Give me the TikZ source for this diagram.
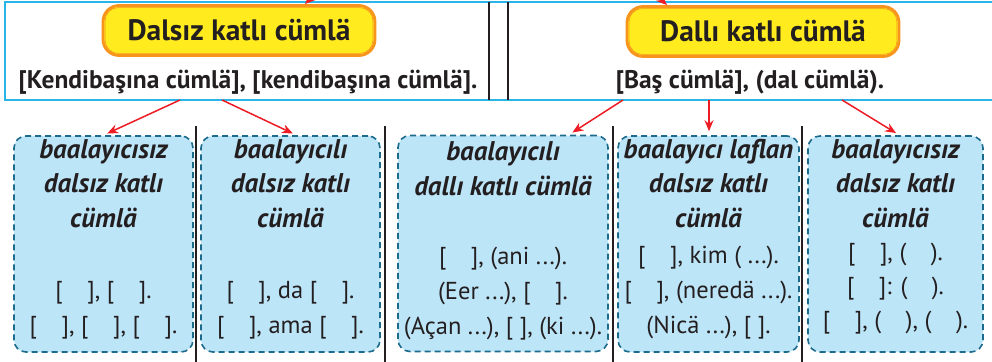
\documentclass[tikz,border=0pt]{standalone}
\usepackage{fontspec}
\setmainfont{PT Sans}
\usepackage{xcolor}
\usepackage{tikz}
\usetikzlibrary{arrows.meta}

\definecolor{cizgi}{HTML}{231F20}
\definecolor{mavi}{HTML}{29B5E8}
\definecolor{kutumavi}{HTML}{BDE5F8}
\definecolor{kesikmavi}{HTML}{1D6B8C}
\definecolor{turuncu}{HTML}{F7941D}
\definecolor{sari}{HTML}{FFEB1E}
\definecolor{kirmizi}{HTML}{ED1C24}

\tikzset{
    baslik/.style={rounded corners=16pt, draw=turuncu, line width=2.8pt,
        minimum width=272pt, minimum height=50pt,
        left color=sari, middle color=white!85!sari, right color=sari,
        font=\fontsize{29.5}{34}\selectfont\bfseries, text=cizgi},
    alt/.style={font=\fontsize{25.5}{30}\selectfont\bfseries, text=cizgi},
    tur/.style={rounded corners=12pt, draw=kesikmavi, fill=kutumavi,
        dash pattern=on 6pt off 4pt, line width=1.6pt, minimum height=216pt},
    ad/.style={font=\fontsize{27}{34.5}\selectfont\bfseries\itshape, align=center, text=cizgi},
    ornek/.style={font=\fontsize{24.5}{35}\selectfont, align=center, text=cizgi},
    ok/.style={draw=kirmizi, line width=1.5pt, -{Stealth[length=11pt,width=9pt]}}
}

\begin{document}
\begin{tikzpicture}[x=1pt, y=-1pt]
    \useasboundingbox (0,0) rectangle (992,361);

    % Üst çerçeve
    \draw[mavi, line width=1.2pt] (1000,2) -- (5,2) -- (5,100) -- (1000,100);
    \draw[cizgi, line width=2pt] (489,2) -- (489,100);
    \draw[cizgi, line width=2pt] (508,2) -- (508,100);

    % Başlıklar
    \node[baslik] (p1) at (239,30.5) {Dalsız katlı cümlä};
    \node[baslik] (p2) at (763,31.5) {Dallı katlı cümlä};
    \draw[turuncu, line width=0.6pt, rounded corners=13pt]
        ([shift={(3.5pt,3.5pt)}]p1.south west) rectangle ([shift={(-3.5pt,-3.5pt)}]p1.north east);
    \draw[turuncu, line width=0.6pt, rounded corners=13pt]
        ([shift={(3.5pt,3.5pt)}]p2.south west) rectangle ([shift={(-3.5pt,-3.5pt)}]p2.north east);

    \node[alt] (k1) at (248,82) {[Kendibaşına cümlä], [kendibaşına cümlä].};
    \node[alt] (k2) at (750,82) {[Baş cümlä], (dal cümlä).};

    % Alt ayırıcılar
    \foreach \x in {196,385,613,802}
        \draw[cizgi, line width=2pt] (\x,126) -- (\x,365);

    % Kutular
    \node[tur, minimum width=179pt] (b1) at (103.5,244) {};
    \node[tur, minimum width=179pt] (b2) at (290.5,244) {};
    \node[tur, minimum width=210pt] (b3) at (503,243.5) {};
    \node[tur, minimum width=181pt] (b4) at (708.5,244) {};
    \node[tur, minimum width=175pt] (b5) at (895.5,244) {};

    \node[ad] (t1) at (103.5,183.5) {baalayıcısız\\dalsız katlı\\cümlä};
    \node[ornek] (o1) at (103.5,310) {{[}\quad], [\quad].\\{[}\quad], [\quad], [\quad].};

    \node[ad] (t2) at (290.5,183.5) {baalayıcılı\\dalsız katlı\\cümlä};
    \node[ornek] (o2) at (290.5,310) {{[}\quad], da [\quad].\\{[}\quad], ama [\quad].};

    \node[ad] (t3) at (503,168.5) {baalayıcılı\\dallı katlı cümlä};
    \node[ornek] (o3) at (503,293.5) {{[}\quad], (ani ...).\\(Eer ...), [\quad].\\(Açan ...), [ ], (ki ...).};

    \node[ad] (t4) at (708.5,183.5) {baalayıcı laflan\\dalsız katlı\\cümlä};
    \node[ornek] (o4) at (708.5,292.5) {{[}\quad], kim ( ...).\\{[}\quad], (neredä ...).\\(Nicä ...), [ ].};

    \node[ad] (t5) at (895.5,183.5) {baalayıcısız\\dalsız katlı\\cümlä};
    \node[ornek, font=\fontsize{24.5}{34}\selectfont] (o5) at (895.5,289) {{[}\quad], (\quad).\\{[}\quad]: (\quad).\\{[}\quad], (\quad), (\quad).};

    % Oklar
    \coordinate (u1) at (335,-25);
    \coordinate (u2) at (635,-25);
    \coordinate (a1) at (180,100);
    \coordinate (a2) at (222,100);
    \coordinate (a3) at (623,100);
    \coordinate (a4) at (709,100);
    \coordinate (a5) at (842,100);

    \draw[ok] (u1) -- ([xshift=66pt]p1.north);
    \draw[ok] (u2) -- ([xshift=-96pt]p2.north);
    \draw[ok, shorten >=4pt] (a1) -- (b1.north);
    \draw[ok, shorten >=4pt] (a2) -- ([xshift=6pt]b2.north);
    \draw[ok, shorten >=4pt] (a3) -- ([xshift=66pt]b3.north);
    \draw[ok, shorten >=4pt] (a4) -- ([xshift=0.5pt]b4.north);
    \draw[ok, shorten >=4pt] (a5) -- ([xshift=4pt]b5.north);
\end{tikzpicture}
\end{document}
